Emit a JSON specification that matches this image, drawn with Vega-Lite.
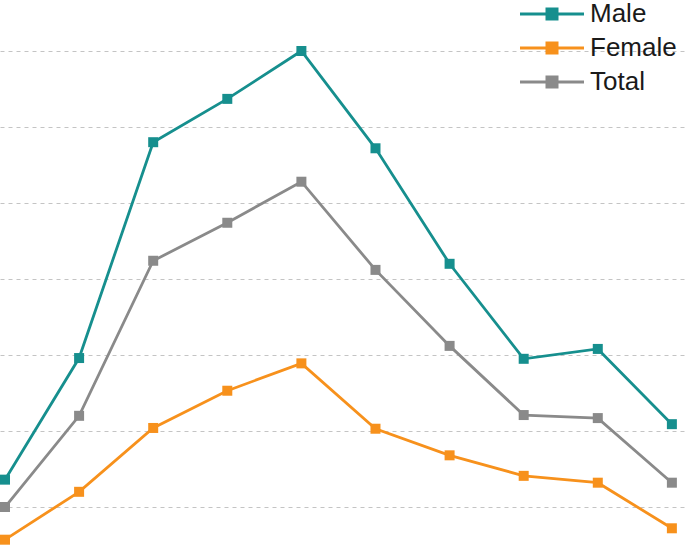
{
  "$schema": "https://vega.github.io/schema/vega-lite/v6.json",
  "width": 685,
  "height": 546,
  "padding": 0,
  "autosize": {"type": "none"},
  "background": "white",
  "config": {"view": {"stroke": null}, "font": "Liberation Sans"},
  "data": {"values": [
    {"x": 1, "group": "Male", "v": 13.6}, {"x": 2, "group": "Male", "v": 29.6}, {"x": 3, "group": "Male", "v": 58.0}, {"x": 4, "group": "Male", "v": 63.7}, {"x": 5, "group": "Male", "v": 70.0},
    {"x": 6, "group": "Male", "v": 57.2}, {"x": 7, "group": "Male", "v": 42.0}, {"x": 8, "group": "Male", "v": 29.5}, {"x": 9, "group": "Male", "v": 30.8}, {"x": 10, "group": "Male", "v": 20.9},
    {"x": 1, "group": "Female", "v": 5.7}, {"x": 2, "group": "Female", "v": 12.0}, {"x": 3, "group": "Female", "v": 20.4}, {"x": 4, "group": "Female", "v": 25.3}, {"x": 5, "group": "Female", "v": 28.9},
    {"x": 6, "group": "Female", "v": 20.3}, {"x": 7, "group": "Female", "v": 16.8}, {"x": 8, "group": "Female", "v": 14.1}, {"x": 9, "group": "Female", "v": 13.2}, {"x": 10, "group": "Female", "v": 7.2},
    {"x": 1, "group": "Total", "v": 10.0}, {"x": 2, "group": "Total", "v": 22.0}, {"x": 3, "group": "Total", "v": 42.4}, {"x": 4, "group": "Total", "v": 47.4}, {"x": 5, "group": "Total", "v": 52.8},
    {"x": 6, "group": "Total", "v": 41.2}, {"x": 7, "group": "Total", "v": 31.2}, {"x": 8, "group": "Total", "v": 22.1}, {"x": 9, "group": "Total", "v": 21.7}, {"x": 10, "group": "Total", "v": 13.2}
  ]},
  "encoding": {
    "x": {"field": "x", "type": "quantitative", "scale": {"domain": [0.9325, 10.177], "nice": false, "zero": false}, "axis": null},
    "y": {"field": "v", "type": "quantitative", "scale": {"domain": [4.87, 76.71], "nice": false, "zero": false},
      "axis": {"values": [10, 20, 30, 40, 50, 60, 70], "labels": false, "ticks": false, "domain": false, "title": null,
        "grid": true, "gridColor": "#c4c4c4", "gridDash": [4, 4], "gridWidth": 1}},
    "color": {"field": "group", "type": "nominal",
      "scale": {"domain": ["Male", "Female", "Total"], "range": ["#168f8e", "#f7911c", "#8a8a8a"]},
      "legend": {"orient": "none", "legendX": 518, "legendY": 1, "title": null,
        "symbolType": "M-3.2,0H3.2M-0.5,-0.5H0.5V0.5H-0.5Z", "symbolSize": 400, "symbolStrokeWidth": 3,
        "labelFontSize": 26, "labelColor": "#1a1a1a", "labelOffset": 25, "rowPadding": 8, "padding": 0, "symbolOffset": 21,
        "labelFont": "Liberation Sans",
        "encode": {"symbols": {"update": {"fill": {"scale": "color", "field": "value"}, "stroke": {"scale": "color", "field": "value"}}}}}}
  },
  "layer": [
    {"mark": {"type": "line", "strokeWidth": 2.8}},
    {"mark": {"type": "point", "shape": "square", "filled": true, "size": 100, "opacity": 1}}
  ]
}
